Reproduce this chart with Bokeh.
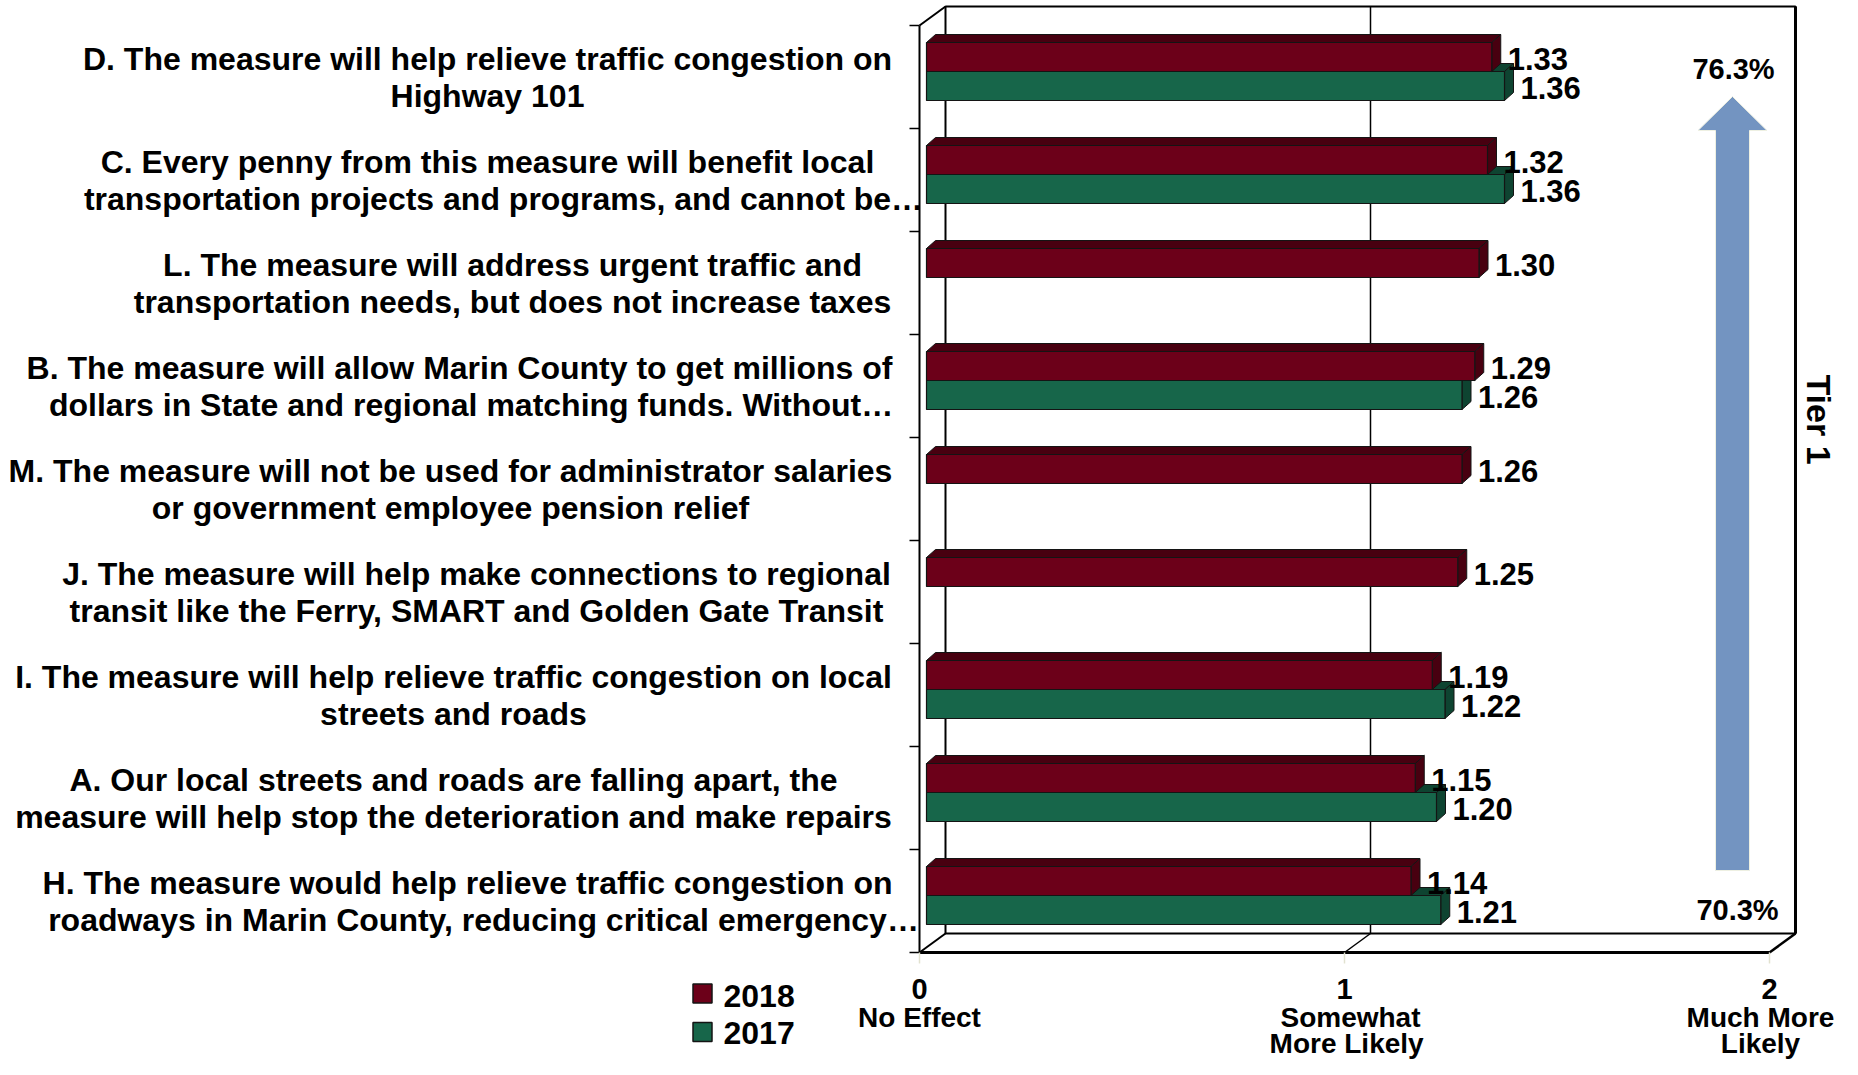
import math
from bokeh.plotting import figure
from bokeh.models import Range1d
from bokeh.core.properties import value
from bokeh.embed import file_html
from bokeh.resources import INLINE

# ---------------- data ----------------
label_line1 = [
    "D. The measure will help relieve traffic congestion on",
    "C. Every penny from this measure will benefit local",
    "L. The measure will address urgent traffic and",
    "B. The measure will allow Marin County to get millions of",
    "M. The measure will not be used for administrator salaries",
    "J. The measure will help make connections to regional",
    "I. The measure will help relieve traffic congestion on local",
    "A. Our local streets and roads are falling apart, the",
    "H. The measure would help relieve traffic congestion on",
]
label_line2 = [
    "Highway 101",
    "transportation projects and programs, and cannot be\u2026",
    "transportation needs, but does not increase taxes",
    "dollars in State and regional matching funds.  Without\u2026",
    "or government employee pension relief",
    "transit like the Ferry, SMART and Golden Gate Transit",
    "streets and roads",
    "measure will help stop the deterioration and make repairs",
    "roadways in Marin County, reducing critical emergency\u2026",
]
series_names = ["2018", "2017"]
values_2018 = [1.33, 1.32, 1.30, 1.29, 1.26, 1.25, 1.19, 1.15, 1.14]
values_2017 = [1.36, 1.36, None, 1.26, None, None, 1.22, 1.20, 1.21]
x_tick_values = [0, 1, 2]
x_tick_labels = ["0", "1", "2"]
x_tick_titles = [["No Effect"], ["Somewhat", "More  Likely"], ["Much More", "Likely"]]
tier_name = "Tier 1"
tier_top_pct = "76.3%"
tier_bottom_pct = "70.3%"

# ---------------- layout (reference picture pixels) ----------------
W, H = 1842, 1059
X0, UX = 919, 425      # x of value 0, px per unit
Y0, UY = 952, 103      # y of front floor, px per row
label_cx_px = [487, 487, 512, 459, 450, 476, 453, 453, 467]
title_dx_px = [0, 6, -9]


def sx(px):
    return (px - X0) / UX


def sy(py):
    return (Y0 - py) / UY


def dx(px):
    return px / UX


def dy(px):
    return px / UY


FONT = value("Liberation Sans")
RED_F, RED_D = "#6C0019", "#480010"
GRN_F, GRN_D = "#17664A", "#0E4431"
EDGE = "#141414"

p = figure(width=W, height=H, output_backend="svg", toolbar_location=None,
           x_range=Range1d(sx(0), sx(W)),
           y_range=Range1d(sy(H), sy(0)),
           x_axis_location=None, y_axis_location=None,
           min_border=0, outline_line_color=None)
p.grid.visible = False
p.background_fill_color = "white"
p.border_fill_color = "white"

n = len(values_2018)
XMAX = x_tick_values[-1]
DXW, DYW = dx(26), dy(19)

# ---- walls & floor ----
p.quad(left=DXW, right=XMAX + DXW, bottom=DYW, top=n + DYW,
       fill_color="white", line_color="black", line_width=2)
p.segment(x0=[XMAX + DXW], y0=[DYW], x1=[XMAX + DXW], y1=[n + DYW], line_color="black", line_width=3)
for t in x_tick_values[1:-1]:
    p.segment(x0=[t + DXW], y0=[DYW], x1=[t + DXW], y1=[n + DYW], line_color="black", line_width=1.5)
    p.segment(x0=[t], y0=[0], x1=[t + DXW], y1=[DYW], line_color="black", line_width=1.5)
p.segment(x0=[0, 0, 0], y0=[0, n, 0], x1=[0, DXW, DXW], y1=[n, n + DYW, DYW],
          line_color="black", line_width=2)
p.segment(x0=[0], y0=[0], x1=[XMAX], y1=[0], line_color="black", line_width=3)
p.segment(x0=[XMAX], y0=[0], x1=[XMAX + DXW], y1=[DYW], line_color="black", line_width=2.5)
p.segment(x0=[-dx(10)] * (n + 1), y0=list(range(n + 1)), x1=[0] * (n + 1), y1=list(range(n + 1)),
          line_color="black", line_width=1.5)
p.segment(x0=x_tick_values, y0=[0] * 3, x1=x_tick_values, y1=[-dy(11)] * 3,
          line_color="#E2E2D0", line_width=1.5)

# ---- bars ----
BX, BY = dx(7), dy(5.5)
BDX, BDY = dx(9), dy(8)
BH = dy(29)


def draw_series(vals, upper, front, dark):
    L, R, B, T = [], [], [], []
    pxs, pys = [], []
    lx, ly, lt = [], [], []
    for i, v in enumerate(vals):
        if v is None:
            continue
        yc = (n - 1 - i) + 0.5 + BY
        b, t = (yc, yc + BH) if upper else (yc - BH, yc)
        L.append(BX); R.append(BX + v); B.append(b); T.append(t)
        pxs.append([BX, BX + v, BX + v + BDX, BX + BDX])
        pys.append([t, t, t + BDY, t + BDY])
        pxs.append([BX + v, BX + v + BDX, BX + v + BDX, BX + v])
        pys.append([b, b + BDY, t + BDY, t])
        lx.append(BX + v + dx(16)); ly.append((b + t) / 2 - dy(2)); lt.append(f"{v:.2f}")
    p.patches(xs=pxs, ys=pys, fill_color=dark, line_color=EDGE, line_width=1)
    p.quad(left=L, right=R, bottom=B, top=T, fill_color=front, line_color=EDGE, line_width=1.2)
    return lx, ly, lt


g_lab = draw_series(values_2017, False, GRN_F, GRN_D)
r_lab = draw_series(values_2018, True, RED_F, RED_D)
for lx, ly, lt in (g_lab, r_lab):
    p.text(x=lx, y=ly, text=lt, text_font=FONT, text_font_style="bold",
           text_font_size=value("31px"), text_align="left", text_baseline="middle",
           text_color="black")

# ---- category labels ----
tx, ty, tt = [], [], []
for i in range(n):
    yc = (n - 1 - i) + 0.5
    for line, off in ((label_line1[i], -18.5), (label_line2[i], 18.5)):
        cx = label_cx_px[i] + (16 if line.endswith("\u2026") else 0)
        tx.append(sx(cx)); ty.append(yc - dy(off)); tt.append(line)
p.text(x=tx, y=ty, text=tt, text_font=FONT, text_font_style="bold",
       text_font_size=value("32px"), text_align="center", text_baseline="middle",
       text_color="black")

# ---- x tick labels & titles ----
p.text(x=x_tick_values, y=[sy(988)] * 3, text=x_tick_labels, text_font=FONT,
       text_font_style="bold", text_font_size=value("29px"), text_align="center",
       text_baseline="middle", text_color="black")
ttx, tty, ttt = [], [], []
for t, lines, off in zip(x_tick_values, x_tick_titles, title_dx_px):
    for k, line in enumerate(lines):
        ttx.append(t + dx(off))
        tty.append(sy(1017 + 26 * k))
        ttt.append(line)
p.text(x=ttx, y=tty, text=ttt, text_font=FONT, text_font_style="bold",
       text_font_size=value("28px"), text_align="center", text_baseline="middle",
       text_color="black")

# ---- legend ----
p.rect(x=[sx(702)] * 2, y=[sy(993), sy(1031.5)], width=dx(19), height=dy(19),
       fill_color=[RED_F, GRN_F], line_color=EDGE, line_width=1.5)
p.text(x=[sx(723)] * 2, y=[sy(995), sy(1032)], text=series_names, text_font=FONT,
       text_font_style="bold", text_font_size=value("32px"), text_align="left",
       text_baseline="middle", text_color="black")

# ---- tier arrow ----
ax_c, shaft_hw, head_hw = 1732, 17, 34.5
arrow_px = [ax_c, ax_c + head_hw, ax_c + shaft_hw, ax_c + shaft_hw,
            ax_c - shaft_hw, ax_c - shaft_hw, ax_c - head_hw]
arrow_py = [96, 130, 130, 870, 870, 130, 130]
p.patch(x=[sx(v) for v in arrow_px], y=[sy(v) for v in arrow_py],
        fill_color="#7394C1", line_color="#EEF0E2", line_width=1)
p.text(x=[sx(1733), sx(1737)], y=[sy(68), sy(909)], text=[tier_top_pct, tier_bottom_pct],
       text_font=FONT, text_font_style="bold", text_font_size=value("29px"),
       text_align="center", text_baseline="middle", text_color="black")
p.text(x=[sx(1818)], y=[sy(419)], text=[tier_name], angle=-math.pi / 2,
       text_font=FONT, text_font_style="bold", text_font_size=value("34px"),
       text_align="center", text_baseline="middle", text_color="black")

open("out.html", "w").write(file_html(p, INLINE))
